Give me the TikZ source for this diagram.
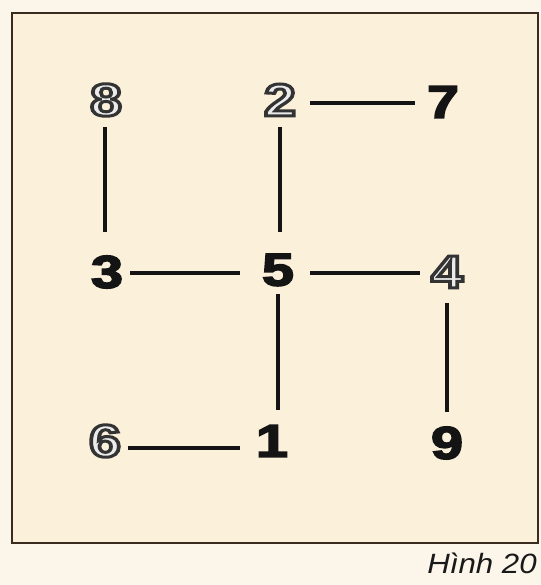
\documentclass[tikz,border=0pt]{standalone}
\usepackage{fontspec}
\setmainfont{Liberation Sans}
\usetikzlibrary{calc}
\definecolor{outbg}{HTML}{FBF5EA}
\definecolor{inbg}{HTML}{FBF0DA}
\definecolor{framec}{HTML}{3A2A20}
\definecolor{ink}{HTML}{141414}
\newcommand\hollow[1]{\special{pdf:literal direct 2 Tr 3 w 0.2 0.2 0.2 RG}#1\special{pdf:literal direct 0 Tr 1 w}}
\newcommand\solid[1]{\special{pdf:literal direct 2 Tr 1.6 w 0.08 0.08 0.08 RG}#1\special{pdf:literal direct 0 Tr 1 w}}
\tikzset{
  digit/.style={font=\fontsize{46}{46}\selectfont\bfseries, text=ink, inner sep=0pt, outer sep=0pt, xscale=1.25, transform shape},
  hdigit/.style={digit, text=black!8},
  link/.style={line width=3.8bp, draw=ink},
}
\begin{document}
\begin{tikzpicture}[x=1bp,y=-1bp]
\useasboundingbox (0,0) rectangle (541,585);
\fill[outbg] (0,0) rectangle (541,585);
\draw[line width=2.4bp, draw=framec, fill=inbg] (12,13) rectangle (538,543);
\node[hdigit] (n8) at (106,100) {\hollow{8}};
\node[hdigit] (n2) at (280,100) {\hollow{2}};
\node[digit]  (n7) at (443,102) {\solid{7}};
\node[digit]  (n3) at (107,272) {\solid{3}};
\node[digit]  (n5) at (278,270) {\solid{5}};
\node[hdigit] (n4) at (447,272) {\hollow{4}};
\node[hdigit] (n6) at (105,441) {\hollow{6}};
\node[digit]  (n1) at (272,441) {\solid{1}};
\node[digit]  (n9) at (447,443) {\solid{9}};
\draw[link] ($(n2)+(30,3)$) -- ($(n7)+(-28,1)$);
\draw[link] ($(n8)+(-1,27)$) -- ($(n8)+(-1,132)$);
\draw[link] ($(n2)+(0,27)$) -- ($(n5)+(2,-38)$);
\draw[link] ($(n3)+(23,1)$) -- ($(n5)+(-38,3)$);
\draw[link] ($(n5)+(32,3)$) -- ($(n4)+(-27,1)$);
\draw[link] ($(n5)+(0,24)$) -- ($(n1)+(6,-31)$);
\draw[link] ($(n4)+(0,31)$) -- ($(n9)+(0,-31)$);
\draw[link] ($(n6)+(23,7)$) -- ($(n1)+(-32,7)$);
\node[anchor=base east, font=\fontsize{28}{28}\selectfont\itshape, text=black!90, inner sep=0pt, xscale=1.12, transform shape] (cap) at (537,573) {Hình 20};
\end{tikzpicture}
\end{document}
